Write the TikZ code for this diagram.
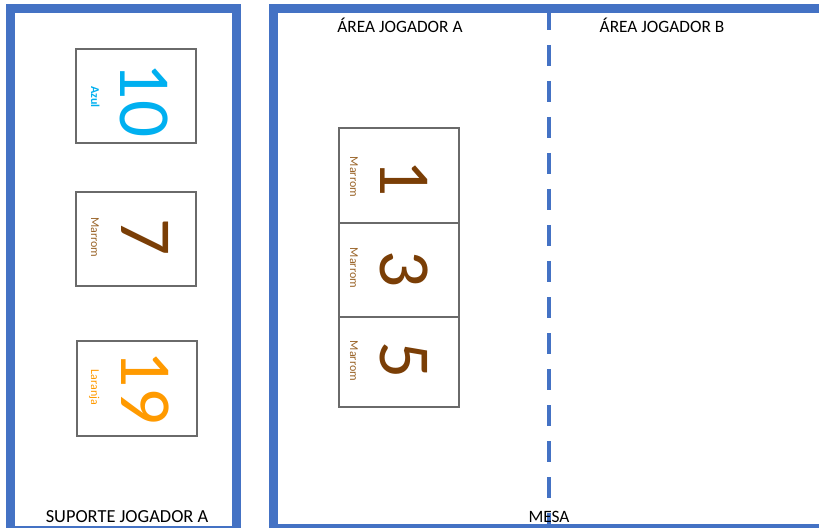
\documentclass[tikz,border=0pt]{standalone}
\usepackage{fontspec}
\setmainfont{Carlito}
\definecolor{frameblue}{HTML}{4472C4}
\definecolor{cardgray}{HTML}{6A6A6A}
\definecolor{azul}{HTML}{00B0F0}
\definecolor{marrom}{HTML}{7A3E06}
\definecolor{marromlbl}{HTML}{9A6428}
\definecolor{laranja}{HTML}{FF9A00}
\begin{document}
\begin{tikzpicture}[x=0.75pt,y=-0.75pt,
  frame/.style={draw=frameblue,line width=6.75pt},
  divider/.style={draw=frameblue,line width=3.6pt,dash pattern=on 15.75pt off 11.25pt},
  card/.style={draw=cardgray,line width=1.3pt,minimum width=90pt,inner sep=0pt,fill=white},
  digit/.style={rotate=-90,anchor=base,inner sep=0pt,font=\fontsize{55}{55}\selectfont},
  lbl/.style={rotate=-90,anchor=base,inner sep=0pt,font=\fontsize{9}{9}\selectfont},
  title/.style={anchor=base,inner sep=0pt,font=\fontsize{13}{13}\selectfont}
]
\useasboundingbox (0,0) rectangle (819,528);
\clip (0,0) rectangle (819,528);
\fill[white] (0,0) rectangle (819,528);
% frames
\draw[frame] (10,9) rectangle (236.5,530);
\draw[frame] (273,9) rectangle (835,528);
% divider
\coordinate (dtop) at (549,9);
\coordinate (dbot) at (549,528);
\draw[divider] (dtop) -- (dbot);
% titles
\node[title] (ta) at (400,33) {ÁREA JOGADOR A};
\node[title] (tb) at (662,33) {ÁREA JOGADOR B};
\node[title,font=\fontsize{13.8}{13.8}\selectfont] (sup) at (127,522) {SUPORTE JOGADOR A};
\node[title] (mesa) at (549,522) {MESA};
% support cards
\node[card,minimum height=70.5pt] (c10) at (136,96) {};
\node[card,minimum height=70.5pt] (c7) at (136,239) {};
\node[card,minimum height=71.25pt] (c19) at (137,388.5) {};
\node[digit,text=azul] (n10) at (120,100) {10};
\node[lbl,text=azul,font=\fontsize{9}{9}\selectfont\bfseries] (l10) at (91,97) {Azul};
\node[digit,text=marrom] (n7) at (121,237.5) {7};
\node[lbl,text=marromlbl] (l7) at (91,237.5) {Marrom};
\node[digit,text=laranja] (n19) at (121,387.5) {19};
\node[lbl,text=laranja] (l19) at (91,387.5) {Laranja};
% table cards
\node[card,minimum height=71.25pt] (c1) at (399,175.5) {};
\node[card,minimum height=70.5pt] (c3) at (399,270) {};
\node[card,minimum height=67.5pt] (c5) at (399,362) {};
\node[digit,text=marrom] (n1) at (380,178) {1};
\node[lbl,text=marromlbl] (l1) at (350,177) {Marrom};
\node[digit,text=marrom] (n3) at (380,269) {3};
\node[lbl,text=marromlbl] (l3) at (350,268) {Marrom};
\node[digit,text=marrom] (n5) at (380,360) {5};
\node[lbl,text=marromlbl] (l5) at (350,361) {Marrom};
\end{tikzpicture}
\end{document}
